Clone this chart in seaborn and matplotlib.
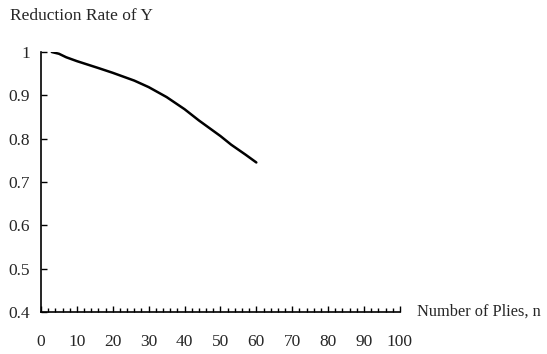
import pandas as pd
import matplotlib
matplotlib.use("Agg")
import matplotlib.pyplot as plt
from matplotlib.ticker import MultipleLocator
import seaborn as sns

plies = [3, 5, 7, 10, 16, 20, 26, 30, 35, 40, 44, 50, 53, 57, 60]
reduction = [1.0, 0.996, 0.988, 0.979, 0.963, 0.952, 0.934, 0.919, 0.896, 0.868, 0.842, 0.806, 0.786, 0.763, 0.745]
x_ticks = [0, 10, 20, 30, 40, 50, 60, 70, 80, 90, 100]
y_ticks = [0.4, 0.5, 0.6, 0.7, 0.8, 0.9, 1.0]
y_labels = ["0.4", "0.5", "0.6", "0.7", "0.8", "0.9", "1"]

df = pd.DataFrame({"n": plies, "rate": reduction})

sns.set_style("white")
plt.rcParams["font.family"] = ["Liberation Serif", "DejaVu Serif"]

fig = plt.figure(figsize=(5.47, 3.54), dpi=100)
ax = fig.add_axes([0.075, 0.119, 0.656, 0.734])

sns.lineplot(data=df, x="n", y="rate", color="black", linewidth=1.8, ax=ax)

ax.set_xlim(0, 100)
ax.set_ylim(0.4, 1.0)
ax.set_xticks(x_ticks)
ax.set_yticks(y_ticks)
ax.set_yticklabels(y_labels)
ax.xaxis.set_minor_locator(MultipleLocator(2))
ax.tick_params(axis="x", which="both", bottom=True, direction="in", length=4,
               width=1, color="black", pad=16, labelsize=12.5)
ax.tick_params(axis="x", which="minor", length=3)
ax.tick_params(axis="y", left=True, direction="in", length=4, width=1,
               color="black", pad=8, labelsize=12.5)

for side in ["top", "right"]:
    ax.spines[side].set_visible(False)
for side in ["left", "bottom"]:
    ax.spines[side].set_color("black")
    ax.spines[side].set_linewidth(1.2)

ax.set_xlabel("")
ax.set_ylabel("")
fig.text(0.018, 0.955, "Reduction Rate of Y", fontsize=12.5, ha="left", va="center")
fig.text(0.762, 0.119, "Number of Plies, n", fontsize=11.8, ha="left", va="center")

plt.savefig("out.png", dpi=100)
